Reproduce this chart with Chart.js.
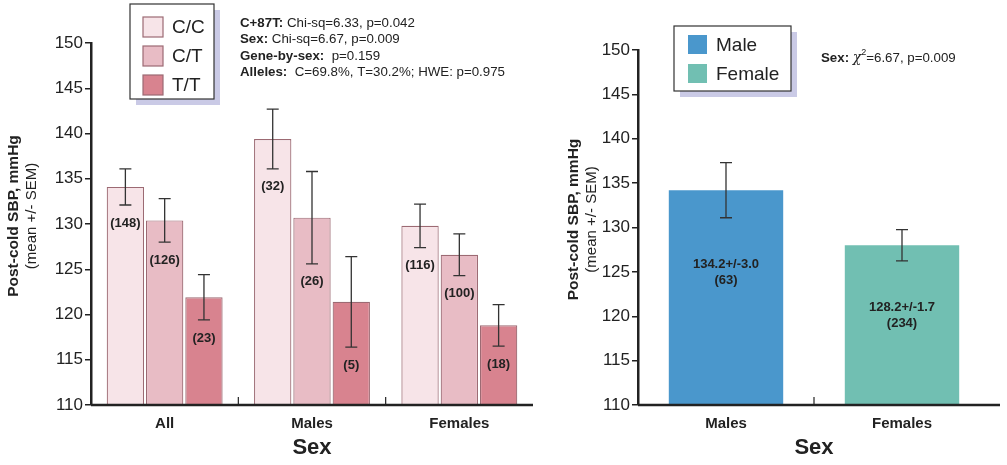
<!DOCTYPE html>
<html>
<head>
<meta charset="UTF-8">
<title>Post-cold SBP by genotype and sex</title>
<script src="https://cdn.jsdelivr.net/npm/chart.js"></script>
<style>
  body { margin: 0; background: #fff; }
  #wrap { position: relative; width: 1007px; height: 465px; }
  #leftBox { position: absolute; left: 0; top: 0; }
  #rightBox { position: absolute; left: 560px; top: 0; }
</style>
</head>
<body>
<div id="wrap">
  <div id="leftBox"><canvas id="genoChart" width="540" height="465"></canvas></div>
  <div id="rightBox"><canvas id="sexChart" width="447" height="465"></canvas></div>
</div>

<script>
// ---- data ----
const groups = ['All', 'Males', 'Females'];
const genotypes = ['C/C', 'C/T', 'T/T'];
const ccMeans = [134.1, 139.4, 129.8];
const ccSem = [2.0, 3.3, 2.4];
const ccN = [148, 32, 116];
const ctMeans = [130.4, 130.7, 126.6];
const ctSem = [2.4, 5.1, 2.3];
const ctN = [126, 26, 100];
const ttMeans = [121.9, 121.4, 118.8];
const ttSem = [2.5, 5.0, 2.3];
const ttN = [23, 5, 18];

const sexCats = ['Males', 'Females'];
const sexLegend = ['Male', 'Female'];
const sexMeans = [134.2, 128.0];
const sexSem = [3.1, 1.75];
const sexN = [63, 234];
const sexText = ['134.2+/-3.0', '128.2+/-1.7'];

const yMin = 110, yMax = 150, yStep = 5;

const geneStats = [
  [['C+87T:', 'b'], [' Chi-sq=6.33, p=0.042', 'n']],
  [['Sex:', 'b'], [' Chi-sq=6.67, p=0.009', 'n']],
  [['Gene-by-sex:', 'b'], ['  p=0.159', 'n']],
  [['Alleles:', 'b'], ['  C=69.8%, T=30.2%; HWE: p=0.975', 'n']]
];
const sexStats = [['Sex:', 'b'], [' ', 'n'], ['\u03C7', 'chi'], ['2', 'sup'], ['=6.67, p=0.009', 'n']];

// ---- styling ----
const FONT = '"Liberation Sans", Arial, Helvetica, sans-serif';
const INK = '#222';
const genoColors = ['#f7e4e8', '#e8bcc5', '#d8838f'];
const genoBorder = '#9c6a73';
const sexColors = ['#4a97cc', '#71bfb2'];

function yScale(w) {
  return {
    min: yMin, max: yMax,
    afterFit: s => { s.width = w; },
    ticks: { stepSize: yStep, font: { family: FONT, size: 17 }, color: INK, padding: 2 },
    grid: { drawOnChartArea: false, tickLength: 6, color: INK, lineWidth: 1.5 },
    border: { display: true, color: INK, width: 2.5 }
  };
}

function xScale() {
  return {
    afterFit: s => { s.height = 60; },
    grid: { display: false },
    border: { display: false },
    ticks: { font: { family: FONT, size: 15, weight: 'bold' }, color: INK, padding: 2 },
    title: { display: true, text: 'Sex', color: INK,
             font: { family: FONT, size: 22, weight: 'bold' }, padding: { top: 0, bottom: 4 } }
  };
}

function fontFor(style) {
  if (style === 'b') return 'bold 13.3px ' + FONT;
  if (style === 'chi') return 'italic 14px "DejaVu Serif", serif';
  if (style === 'sup') return '9px ' + FONT;
  return '13.3px ' + FONT;
}

function drawRuns(ctx, x, y, runs) {
  ctx.textBaseline = 'middle';
  ctx.textAlign = 'left';
  ctx.fillStyle = INK;
  runs.forEach(([txt, style]) => {
    ctx.font = fontFor(style);
    ctx.fillText(txt, x, style === 'sup' ? y - 5 : y);
    x += ctx.measureText(txt).width;
  });
}

function drawYTitle(ctx, area) {
  const cy = (area.top + area.bottom) / 2 - 8;
  ctx.save();
  ctx.fillStyle = INK;
  ctx.textAlign = 'center';
  ctx.textBaseline = 'middle';
  ctx.translate(14, cy);
  ctx.rotate(-Math.PI / 2);
  ctx.font = 'bold 15.5px ' + FONT;
  ctx.fillText('Post-cold SBP, mmHg', 0, 0);
  ctx.font = '15px ' + FONT;
  ctx.fillText('(mean +/- SEM)', 0, 18);
  ctx.restore();
}

function drawAxisAndDividers(chart, extend) {
  const {ctx, chartArea: a, scales: {x}} = chart;
  ctx.save();
  ctx.strokeStyle = INK;
  ctx.lineWidth = 2.5;
  ctx.beginPath();
  ctx.moveTo(a.left, a.bottom);
  ctx.lineTo(a.right + extend, a.bottom);
  ctx.stroke();
  ctx.lineWidth = 1.2;
  for (let i = 0; i < x.ticks.length - 1; i++) {
    const bx = (x.getPixelForTick(i) + x.getPixelForTick(i + 1)) / 2;
    ctx.beginPath();
    ctx.moveTo(bx, a.bottom);
    ctx.lineTo(bx, a.bottom - 8);
    ctx.stroke();
  }
  ctx.restore();
}

function drawErrorBars(chart, sems) {
  const {ctx, scales: {y}} = chart;
  ctx.save();
  ctx.strokeStyle = '#333';
  ctx.lineWidth = 1.3;
  chart.data.datasets.forEach((ds, di) => {
    chart.getDatasetMeta(di).data.forEach((bar, i) => {
      const m = ds.data[i], s = sems[di][i];
      const t = y.getPixelForValue(m + s), b = y.getPixelForValue(m - s);
      ctx.beginPath();
      ctx.moveTo(bar.x, t); ctx.lineTo(bar.x, b);
      ctx.moveTo(bar.x - 6, t); ctx.lineTo(bar.x + 6, t);
      ctx.moveTo(bar.x - 6, b); ctx.lineTo(bar.x + 6, b);
      ctx.stroke();
    });
  });
  ctx.restore();
}

function drawLegendBox(ctx, box, items) {
  ctx.save();
  ctx.fillStyle = '#cacae6';
  ctx.fillRect(box.x + 6, box.y + 6, box.w, box.h);
  ctx.fillStyle = '#fff';
  ctx.fillRect(box.x, box.y, box.w, box.h);
  ctx.strokeStyle = '#333';
  ctx.lineWidth = 1.2;
  ctx.strokeRect(box.x, box.y, box.w, box.h);
  items.forEach((it, i) => {
    const sy = box.y + box.first + i * box.step;
    ctx.fillStyle = it.color;
    ctx.fillRect(box.x + box.pad, sy, box.sw, box.sw);
    if (it.border) {
      ctx.strokeStyle = it.border;
      ctx.lineWidth = 1.2;
      ctx.strokeRect(box.x + box.pad, sy, box.sw, box.sw);
    }
    ctx.fillStyle = INK;
    ctx.font = '19px ' + FONT;
    ctx.textAlign = 'left';
    ctx.textBaseline = 'middle';
    ctx.fillText(it.label, box.x + box.pad + box.sw + box.gap, sy + box.sw / 2 + 1);
  });
  ctx.restore();
}

// ---- left chart: genotype by sex ----
const genoSems = [ccSem, ctSem, ttSem];
const genoNs = [ccN, ctN, ttN];

const genoDeco = {
  id: 'genoDeco',
  afterDatasetsDraw(chart) {
    const {ctx, scales: {y}} = chart;
    drawErrorBars(chart, genoSems);
    ctx.save();
    ctx.fillStyle = INK;
    ctx.font = 'bold 13px ' + FONT;
    ctx.textAlign = 'center';
    ctx.textBaseline = 'middle';
    chart.data.datasets.forEach((ds, di) => {
      chart.getDatasetMeta(di).data.forEach((bar, i) => {
        const ly = y.getPixelForValue(ds.data[i] - genoSems[di][i]) + 18;
        ctx.fillText('(' + genoNs[di][i] + ')', bar.x, ly);
      });
    });
    ctx.restore();
  },
  afterDraw(chart) {
    const {ctx, chartArea} = chart;
    drawAxisAndDividers(chart, 0);
    drawYTitle(ctx, chartArea);
    drawLegendBox(ctx, { x: 130, y: 4, w: 84, h: 95, pad: 13, sw: 20, gap: 9, first: 13, step: 29 },
      chart.data.datasets.map(ds => ({ label: ds.label, color: ds.backgroundColor, border: genoBorder })));
    geneStats.forEach((runs, i) => drawRuns(ctx, 240, 23 + i * 16.5, runs));
  }
};

new Chart(document.getElementById('genoChart'), {
  type: 'bar',
  data: {
    labels: groups,
    datasets: [ccMeans, ctMeans, ttMeans].map((vals, i) => ({
      label: genotypes[i],
      data: vals,
      base: yMin,
      backgroundColor: genoColors[i],
      borderColor: genoBorder,
      borderWidth: 1.2,
      categoryPercentage: 0.8,
      barPercentage: 0.95
    }))
  },
  options: {
    responsive: false,
    animation: false,
    layout: { padding: { top: 43, right: 7, left: 0, bottom: 0 } },
    plugins: { legend: { display: false }, tooltip: { enabled: false } },
    scales: { x: xScale(), y: yScale(91) }
  },
  plugins: [genoDeco]
});

// ---- right chart: sex only ----
const sexDeco = {
  id: 'sexDeco',
  afterDatasetsDraw(chart) {
    const {ctx, scales: {y}} = chart;
    drawErrorBars(chart, [sexSem]);
    ctx.save();
    ctx.fillStyle = INK;
    ctx.font = 'bold 13px ' + FONT;
    ctx.textAlign = 'center';
    ctx.textBaseline = 'middle';
    chart.getDatasetMeta(0).data.forEach((bar, i) => {
      const ly = y.getPixelForValue(sexMeans[i] - sexSem[i]) + 47;
      ctx.fillText(sexText[i], bar.x, ly);
      ctx.fillText('(' + sexN[i] + ')', bar.x, ly + 16);
    });
    ctx.restore();
  },
  afterDraw(chart) {
    const {ctx, chartArea} = chart;
    drawAxisAndDividers(chart, 10);
    drawYTitle(ctx, chartArea);
    drawLegendBox(ctx, { x: 114, y: 26, w: 117, h: 65, pad: 14, sw: 19, gap: 9, first: 9, step: 29 },
      sexLegend.map((l, i) => ({ label: l, color: sexColors[i] })));
    drawRuns(ctx, 261, 58, sexStats);
  }
};

new Chart(document.getElementById('sexChart'), {
  type: 'bar',
  data: {
    labels: sexCats,
    datasets: [{
      label: 'Post-cold SBP',
      data: sexMeans,
      base: yMin,
      backgroundColor: sexColors,
      borderWidth: 0,
      categoryPercentage: 0.65,
      barPercentage: 1.0
    }]
  },
  options: {
    responsive: false,
    animation: false,
    layout: { padding: { top: 50, right: 17, left: 0, bottom: 0 } },
    plugins: { legend: { display: false }, tooltip: { enabled: false } },
    scales: { x: xScale(), y: yScale(78) }
  },
  plugins: [sexDeco]
});
</script>
</body>
</html>
